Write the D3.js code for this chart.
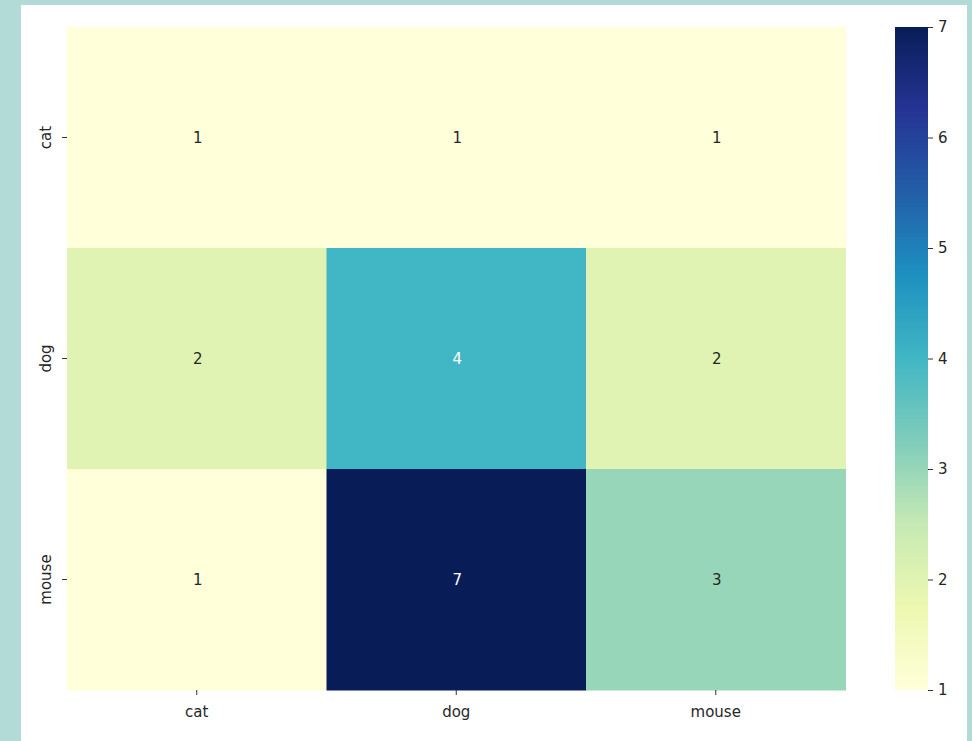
<!DOCTYPE html>
<html>
<head>
<meta charset="utf-8">
<script src="https://cdn.jsdelivr.net/npm/d3@7/dist/d3.min.js"></script>
<style>
html,body{margin:0;padding:0;background:#b2dbd8;}
svg{display:block;}
text{font-family:"DejaVu Sans",sans-serif;}
</style>
</head>
<body>
<svg id="chart" width="972" height="741"></svg>
<script>
const rowLabels = ["cat", "dog", "mouse"];
const colLabels = ["cat", "dog", "mouse"];
const values = [
  [1, 1, 1],
  [2, 4, 2],
  [1, 7, 3]
];
const colorbarTicks = [1, 2, 3, 4, 5, 6, 7];
const ylgnbu = ["#ffffd9","#edf8b1","#c7e9b4","#7fcdbb","#41b6c4","#1d91c0","#225ea8","#253494","#081d58"];

const svg = d3.select("#chart");
svg.append("rect").attr("x",0).attr("y",0).attr("width",972).attr("height",741).attr("fill","#b2dbd8");
svg.append("rect").attr("x",21).attr("y",5).attr("width",946).attr("height",736).attr("fill","#ffffff");

const pLeft = 67, pRight = 845.5, pTop = 27, pBottom = 690;
const x = d3.scaleBand().domain(colLabels).range([pLeft, pRight]);
const y = d3.scaleBand().domain(rowLabels).range([pTop, pBottom]);

const interp = d3.piecewise(d3.interpolateRgb, ylgnbu);
const vmin = 1, vmax = 7;
const color = v => interp((v - vmin) / (vmax - vmin));

const cells = [];
values.forEach((row, i) => row.forEach((v, j) => cells.push({r: rowLabels[i], c: colLabels[j], v})));

svg.append("g").selectAll("rect").data(cells).join("rect")
  .attr("x", d => x(d.c)).attr("y", d => y(d.r))
  .attr("width", x.bandwidth() + 0.5).attr("height", y.bandwidth() + 0.5)
  .attr("fill", d => color(d.v));

svg.append("g").selectAll("text").data(cells).join("text")
  .attr("x", d => x(d.c) + x.bandwidth()/2 + 1)
  .attr("y", d => y(d.r) + y.bandwidth()/2)
  .attr("text-anchor","middle").attr("dominant-baseline","central")
  .attr("font-size", 15)
  .attr("fill", d => ((d.v - vmin)/(vmax - vmin)) > 0.45 ? "#ffffff" : "#262626")
  .text(d => d.v);

// axes
const xAxis = svg.append("g").attr("transform", `translate(0,${pBottom})`)
  .call(d3.axisBottom(x).tickSize(5).tickPadding(6));
const yAxis = svg.append("g").attr("transform", `translate(${pLeft},0)`)
  .call(d3.axisLeft(y).tickSize(5).tickPadding(6));
[xAxis, yAxis].forEach(g => {
  g.select(".domain").remove();
  g.selectAll(".tick line").attr("stroke","#333333").attr("stroke-width",1);
  g.selectAll(".tick text").attr("font-size",15).attr("fill","#262626").attr("font-family","DejaVu Sans");
});
yAxis.selectAll(".tick text")
  .attr("transform","rotate(-90)")
  .attr("x", 0).attr("y", -16)
  .attr("dy", 0)
  .attr("text-anchor","middle")
  .attr("dominant-baseline","auto");
xAxis.selectAll(".tick text").attr("dy","0.71em").attr("y", 16);

// colorbar
const cbx = 895, cbw = 33;
const cy = d3.scaleLinear().domain([vmin, vmax]).range([pBottom, pTop]);
const defs = svg.append("defs");
const grad = defs.append("linearGradient").attr("id","cbgrad")
  .attr("x1","0").attr("y1","1").attr("x2","0").attr("y2","0");
ylgnbu.forEach((c, i) => grad.append("stop").attr("offset", i/(ylgnbu.length-1)).attr("stop-color", c));
svg.append("rect").attr("x", cbx).attr("y", pTop).attr("width", cbw).attr("height", pBottom - pTop)
  .attr("fill","url(#cbgrad)");
const cAxis = svg.append("g").attr("transform", `translate(${cbx + cbw},0)`)
  .call(d3.axisRight(cy).tickValues(colorbarTicks).tickFormat(d3.format("d")).tickSize(5).tickPadding(5));
cAxis.select(".domain").remove();
cAxis.selectAll(".tick line").attr("stroke","#333333");
cAxis.selectAll(".tick text").attr("font-size",15).attr("fill","#262626").attr("font-family","DejaVu Sans");
</script>
</body>
</html>
